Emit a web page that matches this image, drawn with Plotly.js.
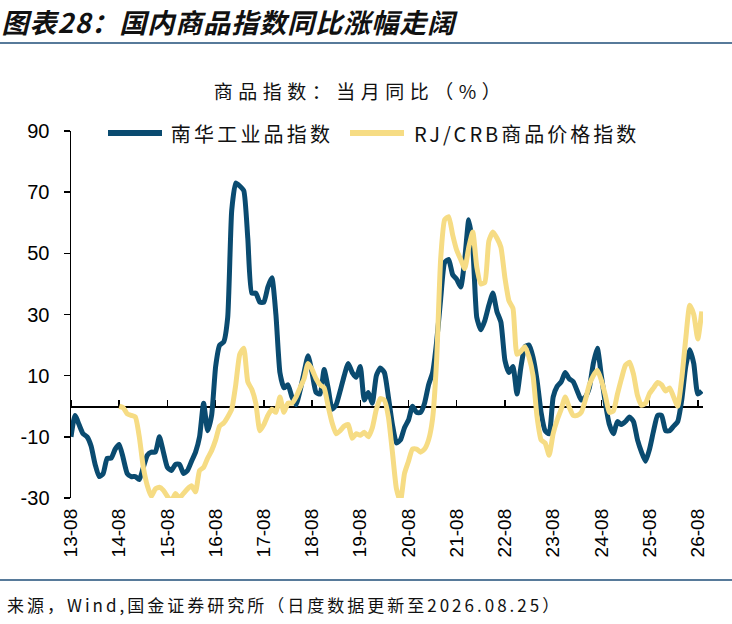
<!DOCTYPE html>
<html>
<head>
<meta charset="utf-8">
<script src="https://cdn.plot.ly/plotly-3.0.1.min.js"></script>
<style>
    html, body { margin: 0; padding: 0; background: #ffffff; }
    #chartDiv { width: 732px; height: 624px; }
</style>
</head>
<body>
<div id="chartDiv"></div>
<script>
"use strict";

// monthly readings, first point = 2013-08
const nanhuaStartMonth = 0;
const nanhuaValues = [
    -10, -3, -6, -9, -10, -13, -19, -23, -22, -17, -17, -14,
    -12.5, -17, -22, -23, -23, -24, -20, -16, -15, -15, -10, -15,
    -20, -21, -19, -19, -22, -21, -18, -15, -10, 1, -8, -3,
    13, 20, 21, 29, 64, 73, 72, 70.5, 55, 37, 37, 34,
    34, 39, 42, 30, 11, 6, 7, 3, 0.5, 5, 11, 16.5,
    11, 4.5, 4, 12, 6, -1, 0.5, 5, 10, 14, 11, 9.5,
    13, 2, 4.5, 1, 10, 12.5, 11, 3, -6, -12, -11, -7,
    -4.5, 0, -2, -2, 1, 7, 11, 21, 35, 47, 48, 43,
    41.5, 39, 48, 61, 52, 29, 25, 28, 33, 37, 31, 27.5,
    15, 11, 13, 4, 13, 19.5, 20, 16, 8.5, -2, -8, -9,
    3, 6.5, 8, 11, 9, 8, 5, 2, 3, 6, 14, 19,
    10, 1, -6, -9, -5, -6, -5, -3.5, -5, -11, -15, -18,
    -14, -8, -3, -3, -8, -8, -6.5, -5, 2, 13, 18.5, 14,
    4, 5
];

// first point = 2014-08
const crbStartMonth = 12;
const crbValues = [
    0, -0.5, -2.5, -3, -3.5, -10, -20, -26, -29.5, -27, -26.5, -27.5,
    -29.5, -31, -28.5, -30, -28.5, -27, -26, -28, -21, -20, -17, -14.5,
    -11, -6.5, -5.5, -3.5, -1, 7, 17, 19, 8, 5.5, 1, -8,
    -6, -3, -1, -2, 3, -2, 1, 1, 3, 6, 9, 14,
    12, 9, 7, 6, 0, -5.5, -9, -8, -6.5, -6, -10.5, -9,
    -9.5, -8.5, -10, -7, -1, 2.5, 2, -3.5, -15, -27, -31, -22,
    -18, -14, -14, -15, -14, -11, -4, 15, 48, 61, 62, 56,
    51, 48, 45, 52, 57, 45.5, 40, 40.5, 54, 57, 55, 52,
    42, 34.5, 32, 17, 18, 19.5, 16, 10, -3.5, -11, -12, -16,
    -9, -4.5, -1, 3, -0.3, -3, -3, -2, 2, 7, 10, 11.8,
    8.5, 3.5, -2, -1.5, 4, 9, 13.4, 14.4, 10.5, 3.5, 0.3, 1,
    4.2, 6, 7.8, 7, 5, 6, 3, 0, 9, 22, 33, 30,
    22, 31
];

const xTickMonths = [0, 12, 24, 36, 48, 60, 72, 84, 96, 108, 120, 132, 144, 156];
const xTickLabels = ['13-08', '14-08', '15-08', '16-08', '17-08', '18-08', '19-08',
    '20-08', '21-08', '22-08', '23-08', '24-08', '25-08', '26-08'];
const yTickValues = [-30, -10, 10, 30, 50, 70, 90];
const yTickLabels = ['-30', '-10', '10', '30', '50', '70', '90'];

const nanhuaName = '南华工业品指数';
const crbName = 'RJ/CRB商品价格指数';
const nanhuaColor = '#0a4b70';
const crbColor = '#f6dc84';

function monthAxis(values, start) {
    return values.map(function (v, i) { return start + i; });
}

const latinFont = 'Liberation Sans, Arial, sans-serif';
const cjkFont = 'Noto Sans CJK SC, sans-serif';

var traces = [
    {
        x: monthAxis(nanhuaValues, nanhuaStartMonth),
        y: nanhuaValues,
        name: nanhuaName,
        type: 'scatter',
        mode: 'lines',
        line: { color: nanhuaColor, width: 5, shape: 'spline', smoothing: 0.5 },
        hoverinfo: 'skip'
    },
    {
        x: monthAxis(crbValues, crbStartMonth),
        y: crbValues,
        name: crbName,
        type: 'scatter',
        mode: 'lines',
        line: { color: crbColor, width: 5, shape: 'spline', smoothing: 0.5 },
        hoverinfo: 'skip'
    },
    {
        // keeps the zero-line axis alive
        x: [0],
        y: [null],
        xaxis: 'x2',
        type: 'scatter',
        mode: 'lines',
        showlegend: false,
        hoverinfo: 'skip'
    }
];

const xRange = [0, 157.3];

// pixel helpers for the paper-placed decorations (plot area 71..703 x 131..498)
function px(x) { return (x - 71) / 632; }
function py(y) { return (498 - y) / 367; }

var layout = {
    width: 732,
    height: 624,
    margin: { l: 71, r: 29, t: 131, b: 126 },
    paper_bgcolor: '#ffffff',
    plot_bgcolor: '#ffffff',
    showlegend: false,
    title: {
        text: '商品指数：当月同比（%）',
        font: { family: cjkFont, size: 19, color: '#111111' },
        x: 360 / 732,
        xanchor: 'center',
        xref: 'container',
        y: 1 - 92 / 624,
        yanchor: 'middle',
        yref: 'container'
    },
    xaxis: {
        range: xRange,
        tickvals: xTickMonths,
        ticktext: xTickLabels,
        tickangle: -90,
        tickfont: { family: latinFont, size: 19, color: '#000000' },
        ticks: '',
        ticklabelstandoff: 6,
        showline: false,
        showgrid: false,
        zeroline: false,
        fixedrange: true
    },
    xaxis2: {
        overlaying: 'x',
        anchor: 'free',
        position: 0.25,
        side: 'top',
        range: xRange,
        tickvals: xTickMonths,
        showticklabels: false,
        ticks: 'outside',
        ticklen: 6,
        tickwidth: 1.5,
        tickcolor: '#000000',
        showline: true,
        linecolor: '#000000',
        linewidth: 1.5,
        showgrid: false,
        zeroline: false,
        layer: 'below traces',
        fixedrange: true
    },
    yaxis: {
        range: [-30, 90],
        tickvals: yTickValues,
        ticktext: yTickLabels,
        tickfont: { family: latinFont, size: 20, color: '#000000' },
        ticks: 'outside',
        ticklen: 6,
        tickwidth: 1.5,
        tickcolor: '#000000',
        ticklabelstandoff: 10,
        showline: true,
        linecolor: '#000000',
        linewidth: 1.5,
        showgrid: false,
        zeroline: false,
        fixedrange: true
    },
    shapes: [
        { type: 'line', xref: 'paper', yref: 'paper', x0: px(0), x1: px(732), y0: py(43), y1: py(43),
            line: { color: '#1f4e79', width: 1.5 } },
        { type: 'line', xref: 'paper', yref: 'paper', x0: px(0), x1: px(732), y0: py(580), y1: py(580),
            line: { color: '#1f4e79', width: 1.5 } },
        { type: 'line', xref: 'paper', yref: 'paper', x0: px(108), x1: px(162), y0: py(133), y1: py(133),
            line: { color: nanhuaColor, width: 6 } },
        { type: 'line', xref: 'paper', yref: 'paper', x0: px(350), x1: px(404), y0: py(133), y1: py(133),
            line: { color: crbColor, width: 6 } }
    ],
    // centred on the reference text so the extra letter spacing grows evenly
    annotations: [
        { text: '图表28：国内商品指数同比涨幅走阔', xref: 'paper', yref: 'paper',
            x: px(230), y: py(22), xanchor: 'center', yanchor: 'middle', showarrow: false,
            font: { family: cjkFont, size: 27, color: '#111111', weight: 'bold', style: 'italic' } },
        { text: nanhuaName, xref: 'paper', yref: 'paper',
            x: px(252), y: py(133), xanchor: 'center', yanchor: 'middle', showarrow: false,
            font: { family: cjkFont, size: 20, color: '#111111' } },
        { text: crbName, xref: 'paper', yref: 'paper',
            x: px(526), y: py(133), xanchor: 'center', yanchor: 'middle', showarrow: false,
            font: { family: cjkFont, size: 20, color: '#111111' } },
        { text: '来源，Wind,国金证券研究所（日度数据更新至2026.08.25）', xref: 'paper', yref: 'paper',
            x: px(284), y: py(604), xanchor: 'center', yanchor: 'middle', showarrow: false,
            font: { family: cjkFont, size: 17, color: '#111111' } }
    ]
};

// the source chart spreads its characters wider than the font does
const annotationSpacing = ['1px', '3.2px', '3px', '3px'];
const titleSpacing = '5.5px';

Plotly.newPlot('chartDiv', traces, layout, { staticPlot: true }).then(function (gd) {
    const annTexts = gd.querySelectorAll('.annotation-text');
    annTexts.forEach(function (el, i) {
        el.style.letterSpacing = annotationSpacing[i];
    });
    const titleText = gd.querySelector('.gtitle');
    if (titleText) {
        titleText.style.letterSpacing = titleSpacing;
    }
});
</script>
</body>
</html>
